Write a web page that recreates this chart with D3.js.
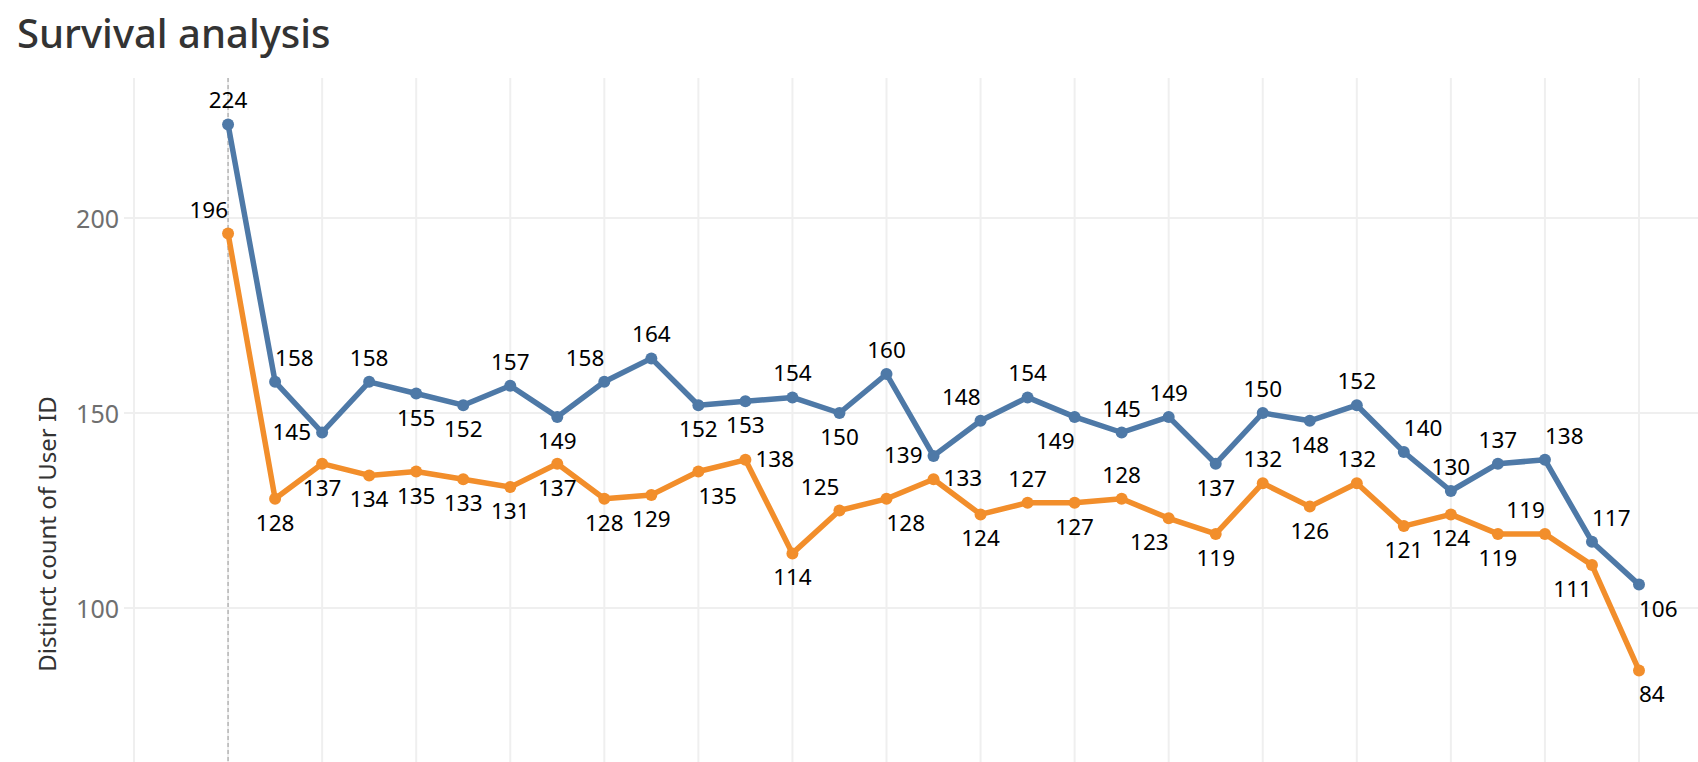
<!DOCTYPE html>
<html>
<head>
<meta charset="utf-8">
<script src="https://cdn.jsdelivr.net/npm/d3@7"></script>
<style>
  body { margin: 0; background: #fff; }
  svg { display: block; font-family: "Noto Sans", sans-serif; }
</style>
</head>
<body>
<svg id="chart"></svg>
<script>
// survival counts per period (index 0..30)
const periods = d3.range(31);
const blueValues = [224, 158, 145, 158, 155, 152, 157, 149, 158, 164, 152, 153, 154, 150, 160, 139,
  148, 154, 149, 145, 149, 137, 150, 148, 152, 140, 130, 137, 138, 117, 106];
const orangeValues = [196, 128, 137, 134, 135, 133, 131, 137, 128, 129, 135, 138, 114, 125, 128, 133,
  124, 127, 127, 128, 123, 119, 132, 126, 132, 121, 124, 119, 119, 111, 84];
const yTicks = [100, 150, 200];

// where tableau put each mark label (a=above, b=below, l/r=side, al/ar/bl/br=corner)
const blueLabelPos = ["a", "ar", "l", "a", "b", "b", "a", "b", "al", "a", "b", "b", "a", "b", "a", "l",
  "al", "a", "bl", "a", "a", "b", "a", "b", "a", "ar", "a", "a", "ar", "ar", "br"];
const orangeLabelPos = ["al", "b", "b", "b", "b", "b", "b", "b", "b", "b", "br", "r", "b", "al", "br", "r",
  "b", "a", "b", "a", "bl", "b", "a", "b", "a", "b", "b", "b", "al", "bl", "br"];

const width = 1698, height = 762;
const plotTop = 78, plotLeft = 134;

const svg = d3.select("#chart").attr("width", width).attr("height", height);

const x = d3.scaleLinear().domain([-2, 30]).range([plotLeft, 1639]);
const y = d3.scaleLinear().domain([100, 200]).range([608, 218]);

// title
svg.append("text")
    .attr("x", 17)
    .attr("y", 48)
    .attr("font-size", 40)
    .attr("font-weight", 500)
    .attr("fill", "#333")
    .text("Survival analysis");

// grid
const grid = svg.append("g").attr("stroke", "#efefef").attr("stroke-width", 2);
grid.selectAll("line.v")
  .data(d3.range(-2, 31, 2))
  .join("line")
    .attr("class", "v")
    .attr("x1", d => x(d)).attr("x2", d => x(d))
    .attr("y1", plotTop).attr("y2", height);
grid.selectAll("line.h")
  .data(yTicks)
  .join("line")
    .attr("class", "h")
    .attr("x1", plotLeft - 10).attr("x2", width)
    .attr("y1", d => y(d)).attr("y2", d => y(d));

// y axis tick labels
svg.append("g")
    .attr("font-size", 25)
    .attr("fill", "#6f6f6f")
    .attr("text-anchor", "end")
  .selectAll("text")
  .data(yTicks)
  .join("text")
    .attr("x", plotLeft - 15)
    .attr("y", d => y(d) + 10)
    .text(d => d);

svg.append("text")
    .attr("transform", "translate(56,534) rotate(-90)")
    .attr("text-anchor", "middle")
    .attr("font-size", 24)
    .attr("fill", "#333")
    .text("Distinct count of User ID");

// reference line at first period
svg.append("line")
    .attr("x1", x(0)).attr("x2", x(0))
    .attr("y1", plotTop).attr("y2", height)
    .attr("stroke", "#b5b5b5")
    .attr("stroke-width", 1.5)
    .attr("stroke-dasharray", "4,3");

const series = [
  { values: blueValues, pos: blueLabelPos, color: "#4e79a7" },
  { values: orangeValues, pos: orangeLabelPos, color: "#f28e2b" }
];

const line = d3.line()
    .x((d, i) => x(periods[i]))
    .y(d => y(d));

series.forEach(s => {
  svg.append("path")
      .datum(s.values)
      .attr("fill", "none")
      .attr("stroke", s.color)
      .attr("stroke-width", 5.5)
      .attr("stroke-linejoin", "round")
      .attr("d", line);

  svg.append("g")
      .attr("fill", s.color)
    .selectAll("circle")
    .data(s.values)
    .join("circle")
      .attr("cx", (d, i) => x(periods[i]))
      .attr("cy", d => y(d))
      .attr("r", 6);
});

// mark labels
const anchorFor = p => p === "a" || p === "b" ? "middle"
  : (p === "l" || p === "al" || p === "bl") ? "end" : "start";
const dxFor = p => p === "l" ? -11 : p === "r" ? 10 : 0;
const dyFor = p => p[0] === "a" ? -16 : p[0] === "b" ? 32 : 7;

series.forEach(s => {
  svg.append("g")
      .attr("font-size", 22.5)
      .attr("fill", "#000")
    .selectAll("text")
    .data(s.values)
    .join("text")
      .attr("x", (d, i) => x(periods[i]) + dxFor(s.pos[i]))
      .attr("y", (d, i) => y(d) + dyFor(s.pos[i]))
      .attr("text-anchor", (d, i) => anchorFor(s.pos[i]))
      .text(d => d);
});
</script>
</body>
</html>
